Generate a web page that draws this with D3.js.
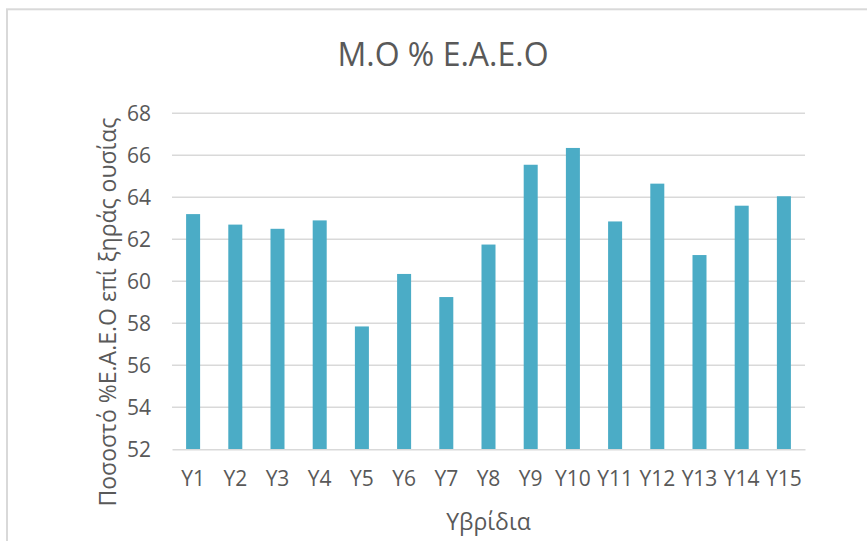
<!DOCTYPE html>
<html>
<head>
<meta charset="utf-8">
<script src="https://cdn.jsdelivr.net/npm/d3@7"></script>
<style>
  html, body { margin: 0; padding: 0; background: #fff; }
  svg { display: block; font-family: "Open Sans", "Noto Sans", sans-serif; }
</style>
</head>
<body>
<svg id="chart" width="867" height="541"></svg>
<script>
// Hybrids and their mean % value on dry matter
const categories = ["Y1","Y2","Y3","Y4","Y5","Y6","Y7","Y8","Y9","Y10","Y11","Y12","Y13","Y14","Y15"];
const values = [63.2, 62.7, 62.5, 62.9, 57.85, 60.35, 59.25, 61.75, 65.55, 66.35, 62.85, 64.65, 61.25, 63.6, 64.05];
const yTicks = [52, 54, 56, 58, 60, 62, 64, 66, 68];
const chartTitle = "M.O % E.A.E.O";
const xTitle = "Υβρίδια";
const yTitle = "Ποσοστό %Ε.Α.Ε.Ο επί ξηράς ουσίας";

const svg = d3.select("#chart");
const W = 867, H = 541;
const plot = { left: 172, right: 805, top: 113.3, bottom: 449.3 };
const textColor = "#595959";
const gridColor = "#d9d9d9";
const barColor = "#4bacc6";

// Outer chart frame (runs off the right and bottom edges)
svg.append("rect")
  .attr("x", 7).attr("y", 9.3)
  .attr("width", W + 20).attr("height", H + 20)
  .attr("fill", "#fff")
  .attr("stroke", gridColor).attr("stroke-width", 2);

const x = d3.scaleBand()
  .domain(categories)
  .range([plot.left, plot.right])
  .paddingInner(0.668)
  .paddingOuter(0.334);

const y = d3.scaleLinear()
  .domain([52, 68])
  .range([plot.bottom, plot.top]);

// Horizontal gridlines
svg.append("g")
  .selectAll("line")
  .data(yTicks.filter(t => t !== 52))
  .join("line")
  .attr("x1", plot.left).attr("x2", plot.right)
  .attr("y1", d => y(d)).attr("y2", d => y(d))
  .attr("stroke", gridColor).attr("stroke-width", 1.5);

// Bars
svg.append("g")
  .selectAll("rect")
  .data(values)
  .join("rect")
  .attr("x", (d, i) => x(categories[i]))
  .attr("width", x.bandwidth())
  .attr("y", d => y(d))
  .attr("height", d => y(52) - y(d))
  .attr("fill", barColor);

// Y axis: labels only, no domain line or ticks
const yAxis = svg.append("g")
  .attr("transform", `translate(${plot.left},0)`)
  .call(d3.axisLeft(y).tickValues(yTicks).tickSize(0).tickPadding(21).tickFormat(d3.format("d")));
yAxis.select(".domain").remove();
yAxis.selectAll("text")
  .attr("fill", textColor)
  .style("font-size", "21px")
  .style("font-family", "\"Open Sans\", sans-serif");

// X axis: baseline plus category labels
const xAxis = svg.append("g")
  .attr("transform", `translate(0,${plot.bottom})`)
  .call(d3.axisBottom(x).tickSize(0).tickPadding(22));
xAxis.select(".domain")
  .attr("stroke", gridColor).attr("stroke-width", 1.5);
xAxis.selectAll("text")
  .attr("fill", textColor)
  .style("font-size", "21px")
  .style("font-family", "\"Open Sans\", sans-serif");

// Chart title
svg.append("text")
  .attr("x", 443).attr("y", 66)
  .attr("text-anchor", "middle")
  .attr("fill", textColor)
  .style("font-size", "32px")
  .text(chartTitle);

// Axis titles
svg.append("text")
  .attr("x", (plot.left + plot.right) / 2).attr("y", 530)
  .attr("text-anchor", "middle")
  .attr("fill", textColor)
  .style("font-size", "23px")
  .text(xTitle);

svg.append("text")
  .attr("transform", "translate(116,312) rotate(-90)")
  .attr("text-anchor", "middle")
  .attr("fill", textColor)
  .style("font-size", "23px")
  .text(yTitle);
</script>
</body>
</html>
